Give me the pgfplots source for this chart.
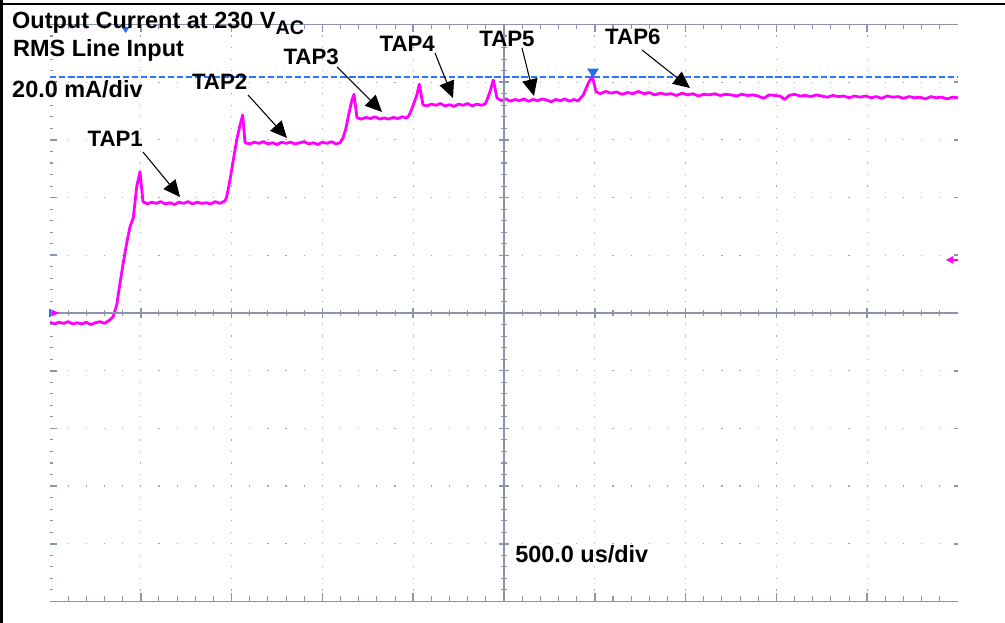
\documentclass[border=0pt]{standalone}
\usepackage{fontspec}
\setmainfont{Liberation Sans}
\usepackage{pgfplots}
\pgfplotsset{compat=1.18}
\usetikzlibrary{arrows.meta}
\definecolor{trace}{RGB}{255,0,255}
\definecolor{gridc}{RGB}{138,148,172}
\definecolor{dotc}{RGB}{160,168,190}
\definecolor{trig}{RGB}{40,110,235}
\definecolor{lvl}{RGB}{45,115,255}

\begin{document}
\begin{tikzpicture}
\useasboundingbox (-37.5pt,-16.125pt) rectangle (716.25pt,451.125pt);
% outer frame (left and top only)
\fill[black] (-37.5pt,-16.125pt) rectangle (-35.5pt,451.125pt);
\fill[black] (-37.5pt,448.6pt) rectangle (716.25pt,447.3pt);

\begin{axis}[
    at={(0,0)}, anchor=south west,
    scale only axis, width=681pt, height=432.75pt,
    xmin=-5, xmax=5, ymin=-5, ymax=5,
    axis line style={draw=none},
    major tick length=0pt,
    xtick={-4,...,4}, ytick={-4,...,4},
    xticklabels={}, yticklabels={},
    grid=major,
    major x grid style={dotc, line width=0.9pt, dash pattern=on 0.9pt off 7.755pt, dash phase=0.45pt},
    major y grid style={dotc, line width=0.9pt, dash pattern=on 0.9pt off 12.72pt, dash phase=0.45pt},
  ]
  % channel trace, in divisions (20 mA/div, 500 us/div)
  \addplot[trace, line width=2.1pt, line join=round] coordinates {
    (-5.00,-0.16) (-4.95,-0.19) (-4.90,-0.16) (-4.85,-0.18) (-4.80,-0.15)
    (-4.75,-0.19) (-4.70,-0.17) (-4.65,-0.19) (-4.60,-0.16) (-4.55,-0.20)
    (-4.50,-0.17) (-4.45,-0.15) (-4.40,-0.18) (-4.35,-0.13)
    (-4.306,-0.069) (-4.265,0.139) (-4.229,0.52) (-4.193,0.867) (-4.155,1.213)
    (-4.119,1.496) (-4.083,1.646) (-4.045,2.189) (-4.009,2.449)
    (-3.976,1.93) (-3.93,1.89) (-3.88,1.92) (-3.83,1.90) (-3.78,1.93)
    (-3.73,1.89) (-3.68,1.91) (-3.63,1.88) (-3.58,1.92) (-3.53,1.90)
    (-3.48,1.93) (-3.43,1.89) (-3.38,1.92) (-3.33,1.90) (-3.28,1.91)
    (-3.23,1.89) (-3.18,1.93) (-3.13,1.90) (-3.073,1.94)
    (-3.054,2.016) (-3.018,2.305) (-2.981,2.652) (-2.944,2.998) (-2.907,3.258)
    (-2.878,3.432)
    (-2.852,2.95) (-2.80,2.93) (-2.75,2.96) (-2.70,2.94) (-2.65,2.97)
    (-2.60,2.93) (-2.55,2.95) (-2.50,2.92) (-2.45,2.96) (-2.40,2.94)
    (-2.35,2.96) (-2.30,2.93) (-2.25,2.95) (-2.20,2.97) (-2.15,2.93)
    (-2.10,2.95) (-2.05,2.92) (-2.00,2.96) (-1.95,2.94) (-1.90,2.97)
    (-1.85,2.93) (-1.806,2.95)
    (-1.773,3.033) (-1.740,3.206) (-1.707,3.466) (-1.674,3.692) (-1.652,3.790)
    (-1.619,3.385) (-1.57,3.36) (-1.52,3.39) (-1.47,3.37) (-1.42,3.40)
    (-1.37,3.36) (-1.32,3.38) (-1.27,3.36) (-1.22,3.39) (-1.17,3.37)
    (-1.12,3.40) (-1.08,3.38) (-1.057,3.397)
    (-1.035,3.461) (-0.999,3.605) (-0.960,3.778) (-0.933,3.964)
    (-0.892,3.605) (-0.85,3.59) (-0.80,3.62) (-0.75,3.60) (-0.70,3.63)
    (-0.65,3.59) (-0.60,3.61) (-0.55,3.58) (-0.50,3.62) (-0.45,3.60)
    (-0.40,3.63) (-0.35,3.59) (-0.30,3.62) (-0.25,3.60) (-0.209,3.62)
    (-0.187,3.692) (-0.154,3.835) (-0.118,4.038)
    (-0.077,3.726) (-0.03,3.68) (0.02,3.71) (0.07,3.67) (0.12,3.70)
    (0.17,3.68) (0.22,3.71) (0.27,3.67) (0.32,3.70) (0.37,3.68)
    (0.42,3.71) (0.47,3.69) (0.52,3.66) (0.57,3.70) (0.62,3.68)
    (0.67,3.71) (0.72,3.67) (0.77,3.70) (0.815,3.674)
    (0.873,3.778) (0.928,3.981) (0.972,4.107)
    (1.013,3.835) (1.06,3.80) (1.12,3.84) (1.18,3.81) (1.24,3.83)
    (1.30,3.79) (1.36,3.82) (1.42,3.80) (1.48,3.84) (1.54,3.80)
    (1.60,3.82) (1.66,3.78) (1.72,3.81) (1.78,3.79) (1.84,3.80)
    (1.90,3.77) (1.96,3.81) (2.02,3.78) (2.08,3.80) (2.14,3.76)
    (2.20,3.79) (2.26,3.78) (2.32,3.80) (2.38,3.77) (2.44,3.79)
    (2.50,3.78) (2.56,3.76) (2.62,3.79) (2.68,3.77) (2.74,3.78)
    (2.80,3.76) (2.86,3.72) (2.92,3.78) (2.98,3.77) (3.04,3.76)
    (3.09,3.70) (3.14,3.77) (3.20,3.79) (3.26,3.76) (3.32,3.77)
    (3.38,3.75) (3.44,3.78) (3.50,3.76) (3.56,3.74) (3.62,3.77)
    (3.68,3.75) (3.74,3.76) (3.80,3.73) (3.86,3.76) (3.92,3.74)
    (3.98,3.76) (4.04,3.73) (4.10,3.75) (4.16,3.72) (4.22,3.76)
    (4.28,3.74) (4.34,3.75) (4.40,3.72) (4.46,3.75) (4.52,3.73)
    (4.58,3.74) (4.64,3.71) (4.70,3.75) (4.76,3.73) (4.82,3.74)
    (4.88,3.71) (4.94,3.74) (5.00,3.73)
  };
\end{axis}

% graticule and annotations in division units
\begin{scope}[x=68.1pt, y=43.275pt, shift={(340.5pt,216.375pt)}]
  % top and bottom edges with ticks
  \draw[gridc, line width=0.8pt] (-5,5) -- (5,5);
  \draw[gridc, line width=0.8pt] (-5,-5) -- (5,-5);
  \foreach \i in {-24,...,24} {
    \draw[gridc, line width=0.8pt] (\i/5,5) -- ++(0,-3.75pt);
    \draw[gridc, line width=0.8pt] (\i/5,-5) -- ++(0,3.75pt);
    \draw[gridc, line width=0.8pt] (-5,\i/5) -- ++(2.5pt,0);
    \draw[gridc, line width=0.8pt] ([yshift=-2.5pt]\i/5,0) -- ++(0,5pt);
    \draw[gridc, line width=0.8pt] ([xshift=-2.5pt]0,\i/5) -- ++(5pt,0);
  }
  \foreach \i in {-4,...,4} {
    \draw[gridc, line width=1.3pt] (\i,5) -- ++(0,-6pt);
    \draw[gridc, line width=1.3pt] (\i,-5) -- ++(0,6pt);
    \draw[gridc, line width=1.3pt] (-5,\i) -- ++(5pt,0);
    \draw[gridc, line width=1.3pt] (5,\i) -- ++(-3pt,0);
    \draw[gridc, line width=1.1pt] ([yshift=-4pt]\i,0) -- ++(0,8pt);
    \draw[gridc, line width=1.1pt] ([xshift=-4pt]0,\i) -- ++(8pt,0);
  }
  % centre cross
  \draw[gridc, line width=1.2pt] (-5,0) -- (5,0);
  \draw[gridc, line width=1.2pt] (0,-5) -- (0,5);

  % trigger level line and markers
  \draw[lvl, line width=1.2pt, dash pattern=on 4.8pt off 2pt] (-5,4.085) -- (5,4.085);
  \fill[trig] (-4.166,4.853) -- ++(-3pt,4.5pt) -- ++(6pt,0) -- cycle;
  \fill[trig] (0.98,4.08) -- ++(-4.5pt,6.75pt) -- ++(9pt,0) -- cycle;
  \draw[trig, line width=1pt] (-5,0) ++(0,-3pt) -- ++(0,6pt);
  \fill[trace] (-5,0) ++(1pt,2.6pt) -- ++(0,-5.2pt) -- ++(6pt,2.6pt) -- cycle;
  \fill[trace] (5,0.92) ++(-9pt,0) -- ++(5.5pt,3pt) -- ++(0,-6pt) -- cycle;
  \draw[trace, line width=1.2pt] (5,0.92) -- ++(-4pt,0);

  % labels
  \begin{scope}[every node/.style={anchor=base west, inner sep=0pt, font=\bfseries\fontsize{17.6}{20}\selectfont}]
    \node at (-5.419,4.939) {Output Current at 230 V\raisebox{-4.5pt}{\fontsize{14.8}{16}\selectfont AC}};
    \node at (-5.408,4.437) {RMS Line Input};
    \node at (-5.419,3.743) {20.0 mA/div};
    \node at (0.121,-4.327) {500.0 us/div};
  \end{scope}
  \begin{scope}[every node/.style={anchor=base west, inner sep=0pt, font=\bfseries\fontsize{16.7}{19}\selectfont}]
    \node at (-4.589,2.883) {TAP1};
    \node at (-3.439,3.865) {TAP2};
    \node at (-2.431,4.298) {TAP3};
    \node at (-1.373,4.529) {TAP4};
    \node at (-0.275,4.615) {TAP5};
    \node at (1.112,4.645) {TAP6};
  \end{scope}
  \begin{scope}[-{Triangle[length=12.5pt,width=11.5pt]}, line width=0.8pt]
    \draw (-3.976,2.790) -- (-3.568,2.010);
    \draw (-2.819,3.778) -- (-2.390,3.033);
    \draw (-1.839,4.263) -- (-1.344,3.484);
    \draw (-0.760,4.506) -- (-0.562,3.726);
    \draw (0.198,4.593) -- (0.330,3.761);
    \draw (1.520,4.558) -- (2.048,3.899);
  \end{scope}
\end{scope}
\end{tikzpicture}
\end{document}
